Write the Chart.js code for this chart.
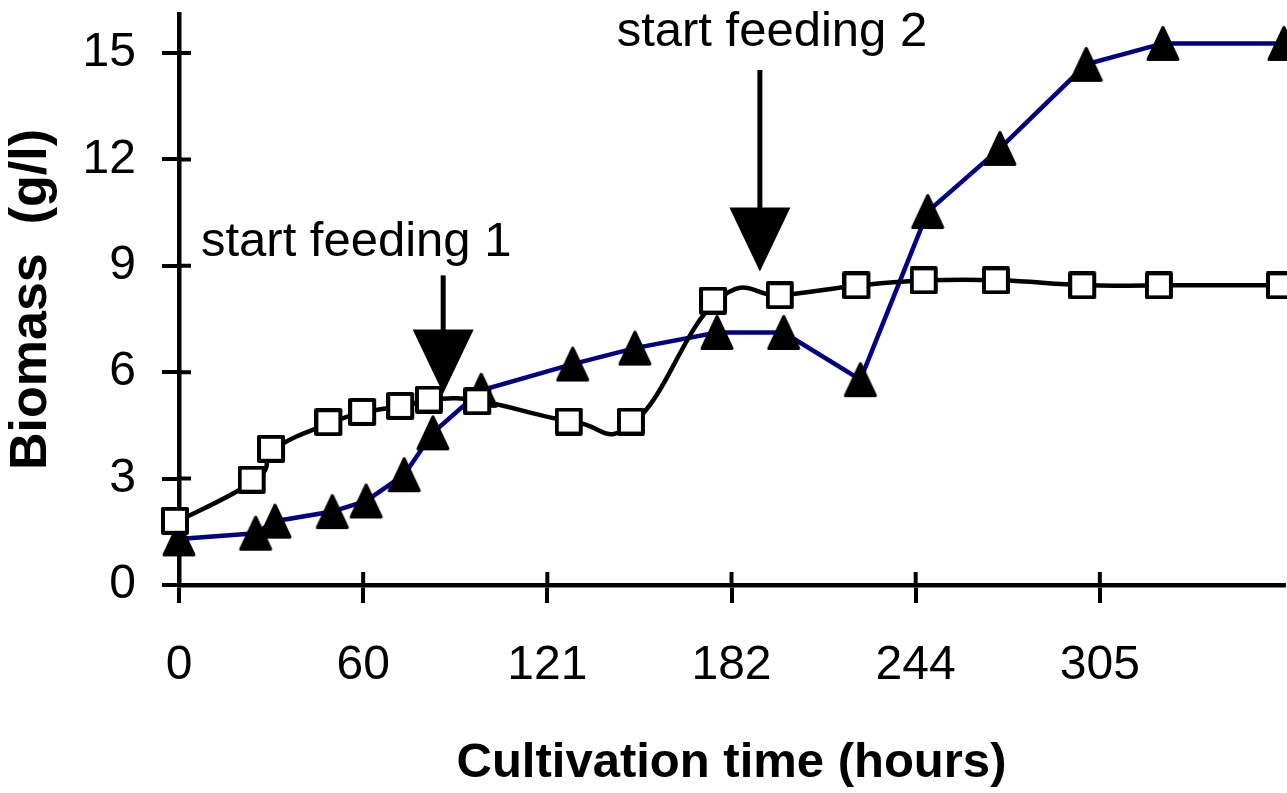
<!DOCTYPE html>
<html>
<head>
<meta charset="utf-8">
<script src="https://cdn.jsdelivr.net/npm/chart.js@4.4.1/dist/chart.umd.min.js"></script>
<style>
  body { margin: 0; background: #fff; }
  #wrap { width: 1287px; height: 793px; position: relative; }
</style>
</head>
<body>
<div id="wrap"><canvas id="chart"></canvas></div>
<script>
// cultivation time (hours), shared by both series
const hours = [0, 25.4, 31.8, 50.8, 62, 74.6, 84.1, 100.1, 130.4, 151, 178.2, 200.3, 225.7, 248, 271.9, 300.5, 325.9, 366];
const biomassSquares = [1.81, 2.97, 3.84, 4.59, 4.88, 5.05, 5.23, 5.18, 4.61, 4.61, 8.02, 8.17, 8.45, 8.59, 8.59, 8.45, 8.45, 8.45];
const biomassTriangles = [1.3, 1.46, 1.8, 2.07, 2.37, 3.11, 4.29, 5.49, 6.23, 6.68, 7.12, 7.12, 5.79, 10.53, 12.31, 14.68, 15.27, 15.27];

const xTickValues = [0, 61, 122, 183, 244, 305];
const xTickLabels = ["0", "60", "121", "182", "244", "305"];
const yTickValues = [0, 3, 6, 9, 12, 15];

// feeding annotations
const feedLabels = ["start feeding 1", "start feeding 2"];
const feedHours = [87.5, 192.4];
const feedArrowTop = [8.73, 14.52];
const feedArrowTip = [5.4, 8.84];
const feedLabelX = [58.7, 196.4];
const feedLabelY = [9.29, 15.2];

const FONT = "'Liberation Sans', Arial, sans-serif";

function makeTriangle() {
  const c = document.createElement("canvas");
  c.width = 36; c.height = 39;
  const ctx = c.getContext("2d");
  ctx.beginPath();
  ctx.moveTo(18, 3.5);
  ctx.lineTo(33, 35.5);
  ctx.lineTo(3, 35.5);
  ctx.closePath();
  ctx.fillStyle = "#000";
  ctx.fill();
  ctx.lineJoin = "round";
  ctx.lineWidth = 3;
  ctx.strokeStyle = "#000";
  ctx.stroke();
  return c;
}

function makeSquare() {
  const c = document.createElement("canvas");
  c.width = 36; c.height = 28;
  const ctx = c.getContext("2d");
  ctx.fillStyle = "#fff";
  ctx.fillRect(2, 2, 24, 24);
  ctx.lineWidth = 4;
  ctx.lineJoin = "round";
  ctx.strokeStyle = "#000";
  ctx.strokeRect(2, 2, 24, 24);
  return c;
}

// Excel-like smoothing (plain Catmull-Rom) for the square series
const excelSmooth = {
  id: "excelSmooth",
  beforeDatasetsDraw(chart) {
    const meta = chart.getDatasetMeta(0);
    meta.dataset.updateControlPoints(chart.chartArea, meta.iScale.axis);
    const pts = meta.data;
    const k = 0.22;
    pts.forEach((p, i) => {
      const prev = pts[i - 1] || p;
      const next = pts[i + 1] || p;
      const dx = (next.x - prev.x) * k;
      const dy = (next.y - prev.y) * k;
      p.cp1x = p.x - dx; p.cp1y = p.y - dy;
      p.cp2x = p.x + dx; p.cp2y = p.y + dy;
    });
  }
};

const innerTicks = {
  id: "innerTicks",
  beforeDatasetsDraw(chart) {
    const { ctx, chartArea, scales } = chart;
    ctx.save();
    ctx.strokeStyle = "#000";
    ctx.lineWidth = 4;
    ctx.beginPath();
    scales.x.ticks.forEach(t => {
      const px = scales.x.getPixelForValue(t.value);
      ctx.moveTo(px, chartArea.bottom);
      ctx.lineTo(px, chartArea.bottom - 13);
    });
    scales.y.ticks.forEach(t => {
      const py = scales.y.getPixelForValue(t.value);
      ctx.moveTo(chartArea.left, py);
      ctx.lineTo(chartArea.left + 12, py);
    });
    ctx.stroke();
    ctx.restore();
  }
};

const feedArrows = {
  id: "feedArrows",
  afterDraw(chart) {
    const { ctx, scales } = chart;
    ctx.save();
    ctx.fillStyle = "#000";
    ctx.strokeStyle = "#000";
    ctx.font = "49px " + FONT;
    ctx.textAlign = "center";
    ctx.textBaseline = "alphabetic";
    feedLabels.forEach((label, i) => {
      const x = scales.x.getPixelForValue(feedHours[i]);
      const top = scales.y.getPixelForValue(feedArrowTop[i]);
      const tip = scales.y.getPixelForValue(feedArrowTip[i]);
      const headLen = 64, headW = 61;
      ctx.lineWidth = 5;
      ctx.beginPath();
      ctx.moveTo(x, top);
      ctx.lineTo(x, tip - headLen + 2);
      ctx.stroke();
      ctx.beginPath();
      ctx.moveTo(x - headW / 2, tip - headLen);
      ctx.lineTo(x + headW / 2, tip - headLen);
      ctx.lineTo(x, tip);
      ctx.closePath();
      ctx.fill();
      ctx.fillText(label, scales.x.getPixelForValue(feedLabelX[i]), scales.y.getPixelForValue(feedLabelY[i]));
    });
    ctx.restore();
  }
};

new Chart(document.getElementById("chart"), {
  type: "line",
  data: {
    datasets: [
      {
        label: "squares",
        data: hours.map((h, i) => ({ x: h, y: biomassSquares[i] })),
        borderColor: "#000",
        borderWidth: 4.5,
        tension: 0.2,
        pointStyle: makeSquare(),
        pointRadius: 14,
        clip: false
      },
      {
        label: "triangles",
        data: hours.map((h, i) => ({ x: h, y: biomassTriangles[i] })),
        borderColor: "#000080",
        borderWidth: 4.5,
        tension: 0,
        pointStyle: makeTriangle(),
        pointRadius: 17,
        clip: false
      }
    ]
  },
  options: {
    responsive: true,
    maintainAspectRatio: false,
    animation: false,
    layout: { autoPadding: false, padding: { top: 14, right: 3, left: 0, bottom: 0 } },
    plugins: { legend: { display: false }, tooltip: { enabled: false } },
    scales: {
      x: {
        type: "linear",
        min: 0,
        max: 366,
        afterBuildTicks: s => { s.ticks = xTickValues.map(v => ({ value: v })); },
        afterFit: s => {
          s.height = 208;
          s.paddingLeft = s.paddingRight = s.paddingTop = s.paddingBottom = 0;
        },
        ticks: {
          autoSkip: false,
          maxRotation: 0,
          padding: 34,
          color: "#000",
          font: { family: FONT, size: 48 },
          callback: (v, i) => xTickLabels[i]
        },
        grid: { drawOnChartArea: false, drawTicks: true, tickLength: 18, lineWidth: 4, color: "#000" },
        border: { display: true, width: 4.5, color: "#000" },
        title: {
          display: true,
          text: "Cultivation time (hours)",
          color: "#000",
          font: { family: FONT, size: 49, weight: "bold" },
          padding: { top: 0, bottom: 0 }
        }
      },
      y: {
        min: 0,
        max: 16.1,
        afterBuildTicks: s => { s.ticks = yTickValues.map(v => ({ value: v })); },
        afterFit: s => {
          s.width = 179;
          s.paddingLeft = s.paddingRight = s.paddingTop = s.paddingBottom = 0;
        },
        ticks: {
          padding: 26,
          color: "#000",
          font: { family: FONT, size: 48 }
        },
        grid: { drawOnChartArea: false, drawTicks: true, tickLength: 17, lineWidth: 4, color: "#000" },
        border: { display: true, width: 4.5, color: "#000" },
        title: {
          display: true,
          text: "Biomass  (g/l)",
          color: "#000",
          font: { family: FONT, size: 52, weight: "bold" },
          padding: { top: 0, bottom: 0 }
        }
      }
    }
  },
  plugins: [excelSmooth, innerTicks, feedArrows]
});
</script>
</body>
</html>
